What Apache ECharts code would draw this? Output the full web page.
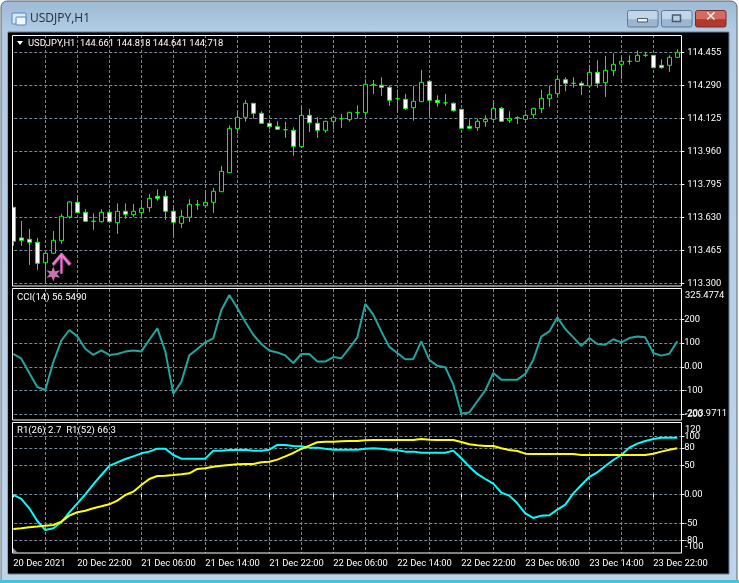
<!DOCTYPE html>
<html><head><meta charset="utf-8">
<style>html,body{margin:0;padding:0;background:#fff}#c{width:739px;height:583px}</style>
<script src="https://cdn.jsdelivr.net/npm/echarts@6/dist/echarts.min.js"></script>
</head><body><div id="c"></div>
<script>
const timeLabels = ['20 Dec 2021','20 Dec 22:00','21 Dec 06:00','21 Dec 14:00','21 Dec 22:00','22 Dec 06:00','22 Dec 14:00','22 Dec 22:00','23 Dec 06:00','23 Dec 14:00','23 Dec 22:00'];
const priceTicks = [113.3,113.465,113.63,113.795,113.96,114.125,114.29,114.455];
const cciTicks = [-200,-100,0,100,200];
const rsiTicks = [-80,-50,0,50,80,100];
const opens = [113.680,113.527,113.520,113.505,113.403,113.450,113.513,113.632,113.705,113.655,113.610,113.608,113.655,113.603,113.660,113.643,113.653,113.678,113.735,113.735,113.660,113.600,113.630,113.693,113.688,113.705,113.758,113.853,114.073,114.130,114.200,114.150,114.100,114.083,114.068,114.065,113.983,114.140,114.100,114.065,114.110,114.123,114.118,114.153,114.153,114.293,114.290,114.280,114.223,114.220,114.178,114.208,114.310,114.215,114.202,114.200,114.170,114.085,114.078,114.108,114.120,114.175,114.115,114.128,114.120,114.143,114.173,114.223,114.248,114.318,114.300,114.300,114.287,114.355,114.303,114.363,114.395,114.410,114.410,114.440,114.440,114.390,114.390,114.430];
const closes = [113.510,113.515,113.505,113.400,113.450,113.515,113.635,113.707,113.653,113.610,113.610,113.655,113.608,113.660,113.645,113.660,113.675,113.725,113.725,113.660,113.605,113.635,113.695,113.693,113.705,113.760,113.860,114.075,114.130,114.200,114.150,114.100,114.083,114.070,114.068,113.985,114.140,114.103,114.065,114.110,114.130,114.123,114.155,114.153,114.295,114.293,114.280,114.215,114.223,114.173,114.210,114.305,114.215,114.203,114.202,114.163,114.075,114.075,114.110,114.120,114.175,114.110,114.125,114.128,114.140,114.175,114.225,114.243,114.320,114.300,114.300,114.290,114.355,114.300,114.365,114.395,114.410,114.410,114.440,114.440,114.378,114.378,114.430,114.455];
const lows = [113.487,113.487,113.392,113.367,113.317,113.447,113.497,113.623,113.650,113.607,113.567,113.603,113.603,113.547,113.623,113.632,113.623,113.657,113.713,113.617,113.538,113.577,113.607,113.667,113.677,113.652,113.757,113.852,114.047,114.108,114.123,114.097,114.070,114.067,114.027,113.938,113.982,114.057,114.027,114.053,114.070,114.077,114.108,114.123,114.140,114.247,114.237,114.187,114.157,114.167,114.113,114.207,114.138,114.183,114.187,114.158,114.072,114.073,114.062,114.083,114.103,114.108,114.102,114.097,114.113,114.125,114.152,114.182,114.230,114.260,114.278,114.242,114.280,114.277,114.232,114.337,114.320,114.393,114.407,114.432,114.375,114.373,114.357,114.427];
const highs = [113.683,113.612,113.572,113.527,113.457,113.562,113.647,113.712,113.730,113.670,113.650,113.670,113.670,113.700,113.700,113.697,113.700,113.747,113.770,113.765,113.680,113.667,113.720,113.717,113.760,113.777,113.887,114.090,114.160,114.217,114.200,114.160,114.110,114.110,114.107,114.080,114.180,114.172,114.130,114.113,114.140,114.147,114.155,114.190,114.320,114.317,114.330,114.287,114.270,114.247,114.287,114.367,114.310,114.240,114.247,114.205,114.170,114.120,114.123,114.140,114.208,114.182,114.160,114.135,114.150,114.175,114.267,114.287,114.340,114.330,114.330,114.310,114.392,114.415,114.437,114.450,114.433,114.440,114.465,114.457,114.440,114.420,114.440,114.470];
const cci = [54,34,-26,-85,-97.5,20,110,155,128,76,50,69,50,54,64,69,64,114,162,65,-114,-64,48,75,103,120,238,302,248,189,135,96,69,60,48,16,54,54,22,22,41,36,79,124,265,220,149,84,58,32,32,107,29,4,-2,-75,-197,-192,-145,-99,-26,-54,-54,-54,-30,30,127,149,208,159,124,88,121,96,93,116,103,121,128,124,58,47,55,107];
const r26 = [-1.1,-8,-24.1,-46,-61.5,-58.6,-48.3,-31,-15.5,0,17.2,33.3,48.9,55.2,60.9,65.5,70.7,73.6,78.7,78.7,67.8,61.5,61.5,61.5,61.5,75.3,75.3,76.4,76.4,77,75.3,75.3,77,85.1,85.1,83.3,82.8,80.5,80.5,78.7,77,77,77,77,78.7,79.3,78.7,77,75.9,73.6,73.6,71.8,71.8,71.8,71.8,75.3,62.1,47.7,35.1,26.4,18.4,2.9,-2.3,-15.5,-32.8,-40.8,-36.8,-36.2,-26.4,-17.8,1.7,16.1,29.9,37.9,48.9,59.2,67.8,80.5,87.4,92,95.4,97.7,97.7,97.7];
const r52 = [-59.8,-58.6,-56.9,-55.7,-54,-52.9,-47.1,-36.8,-31,-28.2,-24.1,-20.7,-17.2,-10.9,-1.1,4.6,16.1,26.4,31.6,32.2,33.3,34.5,36.2,43.7,44.8,47.7,49.4,50.6,51.7,52.3,52.3,55.2,56.3,59.8,65.5,71.3,78.2,83.9,89.7,90.8,90.8,91.4,92,92,93.1,93.7,93.7,93.7,93.7,93.7,93.7,95.4,94.3,93.7,93.7,93.7,90.2,86.2,84.5,83.3,83.3,79.3,76.4,74.7,70.1,69.5,69.5,69.5,69.5,69.5,69.5,67.8,67.8,67.8,67.8,67.8,67.8,67.8,67.8,67.8,70.1,73.6,77,79.3];
const arrowMark = [[6,113.4015]];
const starMark = [[5,113.3465]];

const FONT = 'Roboto';
const FONTSIZE = 9.4;
const categories = opens.map((_, i) => String(i));
const GRID = '#7b8a99';
const split = {show:true,alignWithLabel:true,interval:(i)=>i%4===0&&i>0,lineStyle:{color:GRID,type:[3,2],width:1}};
const xAxisBase = gi => ({type:'category',gridIndex:gi,data:categories,boundaryGap:true,
  axisLine:{show:false},axisTick:{show:false},axisLabel:{show:false},splitLine:split});
const yAxisBase = (gi,min,max,ticks,fmt,labelExtra) => ({type:'value',gridIndex:gi,position:'right',min,max,scale:true,
  axisLine:{show:false},
  axisTick:{show:true,length:3,lineStyle:{color:'#fff'},customValues:ticks},
  axisLabel:{show:true,customValues:ticks,color:'#fff',fontFamily:FONT,fontSize:FONTSIZE,margin:5,formatter:fmt,hideOverlap:false,...labelExtra},
  splitLine:{show:true,lineStyle:{color:GRID,type:[3,2],width:1},customValues:ticks}});

const xBottom = xAxisBase(2);
xBottom.axisTick = {show:true,alignWithLabel:true,length:3,interval:(i)=>i%8===0,lineStyle:{color:'#fff'}};
xBottom.axisLabel = {show:true,color:'#fff',fontFamily:FONT,fontSize:FONTSIZE,align:'left',margin:6,
  interval:(i)=>i%8===0,formatter:(v,i)=>timeLabels[Math.round(Number(v)/8)],hideOverlap:false};

const txt = (x,y,s,size,color,extra) => ({type:'text',x,y,silent:true,z:50,style:{text:s,fill:color||'#fff',font:(size||FONTSIZE)+'px '+FONT,...extra}});
const frame = (x,y,w,h) => ({type:'rect',shape:{x,y,width:w,height:h},silent:true,z:40,style:{fill:null,stroke:'#fff',lineWidth:1}});
const btn = (x,w,c1,c2,border) => ({type:'rect',shape:{x,y:10.5,width:w,height:16.5,r:2},silent:true,z:2,
  style:{fill:new echarts.graphic.LinearGradient(0,0,0,1,[{offset:0,color:c1},{offset:0.5,color:c1},{offset:0.55,color:c2},{offset:1,color:c2}]),stroke:border,lineWidth:1}});
const ARROW = 'path://M10 0L20 11L18 13L11 5L11 21L9 21L9 5L2 13L0 11Z';

const option = {
  animation:false, backgroundColor:'#fff',
  grid:[
    {left:9.3,width:672,top:35,height:251},
    {left:9.3,width:672,top:289,height:131},
    {left:9.3,width:672,top:422,height:131}
  ],
  xAxis:[xAxisBase(0),xAxisBase(1),xBottom],
  yAxis:[
    yAxisBase(0,113.2865,114.5415,priceTicks,v=>v.toFixed(3),{margin:6}),
    yAxisBase(1,-224,327.6,cciTicks,v=>v===0?'0.00':String(v),{margin:3}),
    yAxisBase(2,-101.2,124.7,rsiTicks,v=>v===0?'0.00':String(v),{margin:3})
  ],
  graphic:{elements:[
    {type:'rect',shape:{x:0,y:0,width:739,height:583},silent:true,z:-10,style:{fill:'#fff'}},
    {type:'rect',shape:{x:1,y:1,width:736,height:582,r:[6,6,0,0]},silent:true,z:-9,
      style:{fill:new echarts.graphic.LinearGradient(0,0,0,1,[{offset:0,color:'#9db9d3'},{offset:0.05,color:'#b0cbe4'},{offset:1,color:'#bcd5ec'}]),stroke:'#5a6670',lineWidth:1}},
    {type:'rect',shape:{x:0,y:580,width:739,height:3},silent:true,z:-8,style:{fill:'#49c3d9'}},
    {type:'rect',shape:{x:8,y:32,width:721,height:542},silent:true,z:-7,style:{fill:'#000',stroke:'#6d7b88',lineWidth:1}},
    {type:'rect',shape:{x:8,y:33,width:4.5,height:540},silent:true,z:30,style:{fill:'#000'}},
    frame(12.5,35.5,669,250.5),frame(12.5,288.5,669,131.5),frame(12.5,422.5,669,130.5),
    {type:'polygon',shape:{points:[[17,41],[23,41],[20,45]]},silent:true,z:50,style:{fill:'#fff'}},
    {type:'polygon',shape:{points:[[13,548],[18,553],[13,553]]},silent:true,z:50,style:{fill:'#8a98a6'}},
    txt(28,39,'USDJPY,H1  144.661 144.818 144.641 144.718',9.4),
    txt(17,293,'CCI(14) 56.5490',9.6),
    txt(17,426,'R1(26) 2.7  R1(52) 66.3',9.6),
    txt(685,291,'325.4774'),
    txt(685,409,'-203.9711'),
    txt(685,425,'120'),
    txt(685,542,'-100'),
    // window chrome
    {type:'rect',shape:{x:12,y:13,width:14,height:11,r:1},silent:true,z:2,style:{fill:'#dce9f5',stroke:'#4f87c0',lineWidth:1}},
    {type:'rect',shape:{x:16,y:17,width:10,height:8,r:1},silent:true,z:3,style:{fill:'#f3f7fb',stroke:'#4f87c0',lineWidth:1}},
    txt(30,13,'USDJPY,H1',12,'#1f2a36',{font:'12px "Open Sans"'}),
    btn(627.5,30.5,'#c3d6e8','#9ab6d0','#5f7a95'),
    btn(661.5,30.5,'#c3d6e8','#9ab6d0','#5f7a95'),
    btn(695.5,30.5,'#d66a5e','#b23a2c','#6f2f2a'),
    {type:'rect',shape:{x:637.5,y:18.5,width:10,height:3.5},silent:true,z:4,style:{fill:'#eef3f8',stroke:'#4a5a6a',lineWidth:1}},
    {type:'rect',shape:{x:672.5,y:15,width:8,height:6.5},silent:true,z:4,style:{fill:'#b9cde0',stroke:'#4a5a6a',lineWidth:1.5}},
    {type:'text',x:705,y:10,silent:true,z:4,style:{text:'✕',fill:'#f2f2f2',font:'bold 14px "DejaVu Sans"'}}
  ]},
  series:[
    {type:'candlestick',xAxisIndex:0,yAxisIndex:0,barWidth:4,
      data:opens.map((o,i)=>[o,closes[i],lows[i],highs[i]]),
      itemStyle:{color:'#000',color0:'#fff',borderColor:'#00ff00',borderColor0:'#00ff00',borderWidth:1}},
    {type:'scatter',xAxisIndex:0,yAxisIndex:0,data:arrowMark,z:5,symbolOffset:[0,1],symbolSize:[19,21],symbol:ARROW,itemStyle:{color:'#3a3ad0'}},
    {type:'scatter',xAxisIndex:0,yAxisIndex:0,data:arrowMark,z:5,symbolOffset:[1,0],symbolSize:[19,21],symbol:ARROW,itemStyle:{color:'#d03060'}},
    {type:'scatter',xAxisIndex:0,yAxisIndex:0,data:arrowMark,z:6,symbolSize:[19,21],symbol:ARROW,itemStyle:{color:'#f78fe0'}},
    {type:'scatter',xAxisIndex:0,yAxisIndex:0,data:starMark,z:6,symbolSize:[14,15],
      symbol:'path://M8 0L9.75 4.97L14.93 4L11.5 8L14.93 12L9.75 11.03L8 16L6.25 11.03L1.07 12L4.5 8L1.07 4L6.25 4.97Z',itemStyle:{color:'#f78fe0'}},
    {type:'line',xAxisIndex:1,yAxisIndex:1,data:cci,showSymbol:false,lineStyle:{color:'#20a5a0',width:2}},
    {type:'line',xAxisIndex:2,yAxisIndex:2,data:r26,showSymbol:false,lineStyle:{color:'#00ffff',width:2}},
    {type:'line',xAxisIndex:2,yAxisIndex:2,data:r52,showSymbol:false,lineStyle:{color:'#ffff00',width:2}}
  ]
};
echarts.init(document.getElementById('c'),null,{renderer:'canvas'}).setOption(option);
</script></body></html>
